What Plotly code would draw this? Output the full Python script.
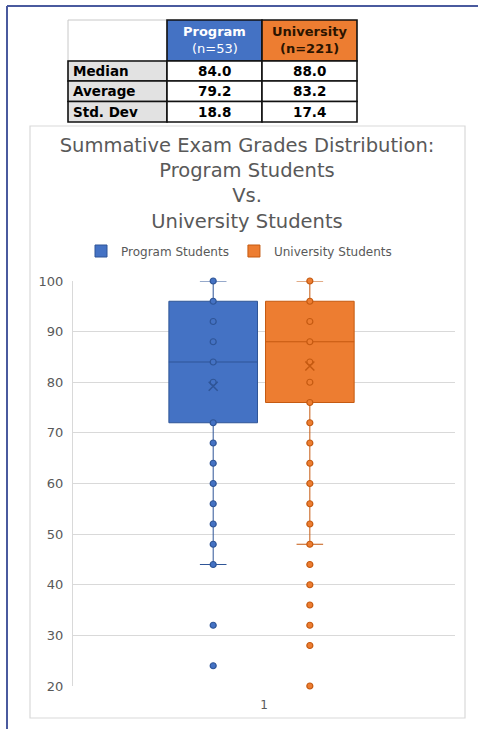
import plotly.graph_objects as go

# ---------------- data ----------------
categories = ["1"]
series_names = ["Program Students", "University Students"]

stat_labels = ["Median", "Average", "Std. Dev"]
program_stats = [84.0, 79.2, 18.8]
university_stats = [88.0, 83.2, 17.4]
n_program = 53
n_university = 221

# box statistics
program_q1 = [72]
program_median = [84]
program_q3 = [96]
program_lower = [44]
program_upper = [100]
program_mean = [79.2]

university_q1 = [76]
university_median = [88]
university_q3 = [96]
university_lower = [48]
university_upper = [100]
university_mean = [83.2]

# individual grade points shown
program_points = [100, 96, 92, 88, 84, 80, 72, 68, 64, 60, 56, 52, 48, 44, 32, 24]
university_points = [100, 96, 92, 88, 84, 80, 76, 72, 68, 64, 60, 56, 52, 48,
                     44, 40, 36, 32, 28, 20]

y_ticks = [20, 30, 40, 50, 60, 70, 80, 90, 100]

# ---------------- style ----------------
W, H = 478, 729
BLUE, BLUE_D = "#4472C4", "#2F5597"
ORANGE, ORANGE_D = "#ED7D31", "#C55A11"
GRAY_T = "#595959"
GRID = "#D9D9D9"
FONT = "DejaVu Sans"

def px_x(p):
    return p / W

def px_y(p):
    return 1 - p / H

# plot area in pixels
PL, PR, PT, PB = 73, 455, 281, 686
POS = [-0.133, 0.120]
BOXW = 0.232

fig = go.Figure()

fig.add_trace(go.Box(
    name=series_names[0], x=[POS[0]], q1=program_q1, median=program_median,
    q3=program_q3, lowerfence=program_lower, upperfence=program_upper,
    boxpoints=False, boxmean=False, width=BOXW, whiskerwidth=0.3,
    fillcolor=BLUE, line=dict(color=BLUE_D, width=1), hoverinfo="skip",
))
fig.add_trace(go.Box(
    name=series_names[1], x=[POS[1]], q1=university_q1, median=university_median,
    q3=university_q3, lowerfence=university_lower, upperfence=university_upper,
    boxpoints=False, boxmean=False, width=BOXW, whiskerwidth=0.3,
    fillcolor=ORANGE, line=dict(color=ORANGE_D, width=1), hoverinfo="skip",
))

for pts, pos, c, cd in [(program_points, POS[0], BLUE, BLUE_D),
                        (university_points, POS[1], ORANGE, ORANGE_D)]:
    fig.add_trace(go.Scatter(
        x=[pos] * len(pts), y=pts, mode="markers", showlegend=False,
        cliponaxis=False, hoverinfo="skip",
        marker=dict(size=6, color=c, line=dict(color=cd, width=1.2)),
    ))

for m, pos, cd in [(program_mean, POS[0], BLUE_D), (university_mean, POS[1], ORANGE_D)]:
    fig.add_trace(go.Scatter(
        x=[pos], y=m, mode="markers", showlegend=False, hoverinfo="skip",
        marker=dict(symbol="x-thin-open", size=9, color=cd,
                    line=dict(color=cd, width=1.5)),
    ))

# ---------------- table (drawn with shapes + text) ----------------
col_edges = [68, 167, 262, 357]
row_edges = [20, 61, 81, 101.5, 122]
shapes = []
annos = []

def cell_rect(c, r, fill, lc, lw):
    shapes.append(dict(
        type="rect", xref="paper", yref="paper",
        x0=px_x(col_edges[c]), x1=px_x(col_edges[c + 1]),
        y0=px_y(row_edges[r + 1]), y1=px_y(row_edges[r]),
        fillcolor=fill, line=dict(color=lc, width=lw), layer="above"))

# header
cell_rect(0, 0, "white", "#C8C8C8", 1)
cell_rect(1, 0, BLUE, "#111111", 1.6)
cell_rect(2, 0, ORANGE, "#111111", 1.6)
# body
for r in range(len(stat_labels)):
    cell_rect(0, r + 1, "#E2E2E2", "#111111", 1.6)
    cell_rect(1, r + 1, "white", "#111111", 1.6)
    cell_rect(2, r + 1, "white", "#111111", 1.6)

def txt(x, y, s, color, size=13, xanchor="center", family=FONT):
    annos.append(dict(x=px_x(x), y=px_y(y), xref="paper", yref="paper",
                      text=s, showarrow=False, xanchor=xanchor, yanchor="middle",
                      font=dict(family=family, size=size, color=color)))

hx1 = (col_edges[1] + col_edges[2]) / 2
hx2 = (col_edges[2] + col_edges[3]) / 2
txt(hx1, 32, "<b>Program</b>", "white")
txt(hx1, 49, "(n=%d)" % n_program, "white")
txt(hx2, 32, "<b>University</b>", "#2B1400")
txt(hx2, 49, "<b>(n=%d)</b>" % n_university, "#2B1400")
for r, (lab, pv, uv) in enumerate(zip(stat_labels, program_stats, university_stats)):
    yc = (row_edges[r + 1] + row_edges[r + 2]) / 2
    txt(col_edges[0] + 3, yc, "<b>%s</b>" % lab, "black", 13.5, "left")
    txt(hx1, yc, "<b>%.1f</b>" % pv, "black", 13.5)
    txt(hx2, yc, "<b>%.1f</b>" % uv, "black", 13.5)

# ---------------- frame shapes ----------------
shapes += [
    dict(type="rect", xref="paper", yref="paper",
         x0=px_x(30), x1=px_x(465), y0=px_y(718), y1=px_y(126),
         line=dict(color=GRID, width=1.2), fillcolor="rgba(0,0,0,0)", layer="below"),
    dict(type="line", xref="paper", yref="paper",
         x0=px_x(7), x1=1, y0=px_y(6), y1=px_y(6),
         line=dict(color="#4A5A9E", width=2)),
    dict(type="line", xref="paper", yref="paper",
         x0=px_x(7), x1=px_x(7), y0=px_y(6), y1=0,
         line=dict(color="#4A5A9E", width=2)),
]

fig.update_layout(
    width=W, height=H,
    margin=dict(l=0, r=0, t=0, b=0),
    paper_bgcolor="white", plot_bgcolor="white",
    font=dict(family=FONT, color=GRAY_T),
    title=dict(
        text="Summative Exam Grades Distribution:<br>Program Students<br>Vs.<br>University Students",
        x=px_x(247), xanchor="center", y=px_y(151.5), yanchor="middle",
        xref="container", yref="container",
        font=dict(family=FONT, size=19.5, color=GRAY_T),
    ),
    legend=dict(
        orientation="h", x=px_x(239), xanchor="center", y=px_y(251), yanchor="middle",
        font=dict(family=FONT, size=12, color=GRAY_T), bgcolor="rgba(0,0,0,0)",
        itemwidth=30,
    ),
    xaxis=dict(
        domain=[px_x(PL), px_x(PR)], range=[-0.5, 0.5],
        tickvals=[0], ticktext=categories, showgrid=False, zeroline=False,
        showline=False, ticks="", automargin=False, ticklabelstandoff=10,
        tickfont=dict(family=FONT, size=12, color=GRAY_T),
    ),
    yaxis=dict(
        domain=[px_y(PB), px_y(PT)], range=[20, 100],
        tickvals=y_ticks, showgrid=True, gridcolor=GRID, gridwidth=1,
        zeroline=False, showline=True, linecolor=GRID, linewidth=1,
        ticks="", automargin=False, ticklabelstandoff=6,
        tickfont=dict(family=FONT, size=13, color=GRAY_T),
    ),
    shapes=shapes,
    annotations=annos,
    showlegend=True,
)

fig.write_html("out.html")
